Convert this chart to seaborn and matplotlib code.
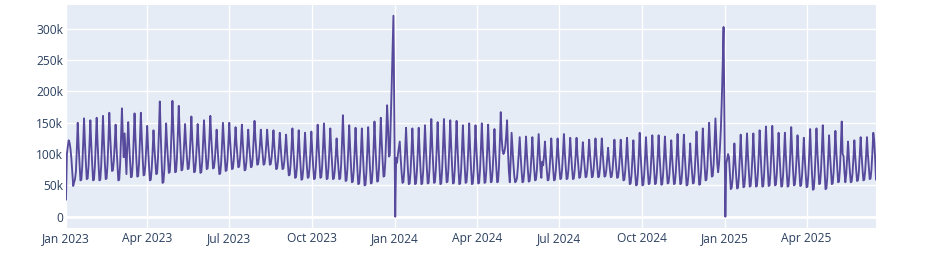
import matplotlib
matplotlib.use("Agg")
import matplotlib.pyplot as plt
import seaborn as sns
import pandas as pd
import numpy as np

# Daily values in thousands
values_2023_k = [
    27, 100, 112, 122, 118, 108, 92,
    70, 49, 55, 60, 72, 108, 150,
    113, 84, 58, 59, 80, 115, 157,
    118, 87, 60, 61, 81, 115, 154,
    116, 85, 58, 59, 80, 116, 158,
    118, 86, 58, 59, 81, 118, 161,
    121, 88, 60, 61, 83, 121, 166,
    129, 99, 73, 74, 89, 116, 147,
    111, 83, 58, 59, 83, 125, 173,
    130, 95, 133, 100, 68, 116, 151,
    116, 88, 63, 64, 85, 122, 165,
    125, 92, 64, 65, 86, 123, 166,
    126, 94, 66, 67, 83, 112, 145,
    110, 82, 58, 59, 76, 104, 138,
    110, 88, 68, 69, 94, 135, 184,
    132, 90, 54, 55, 75, 109, 149,
    117, 92, 70, 71, 95, 137, 185,
    139, 103, 71, 72, 94, 132, 177,
    136, 103, 74, 75, 90, 117, 148,
    119, 96, 76, 77, 94, 125, 160,
    124, 96, 71, 72, 88, 116, 148,
    117, 92, 70, 71, 88, 119, 154,
    123, 98, 76, 77, 95, 125, 161,
    127, 101, 77, 78, 91, 113, 139,
    111, 88, 68, 69, 86, 116, 150,
    122, 96, 73, 74, 90, 118, 150,
    120, 97, 76, 77, 91, 115, 143,
    117, 97, 79, 80, 94, 118, 147,
    118, 94, 74, 75, 88, 112, 139,
    115, 96, 79, 80, 95, 122, 153,
    125, 103, 83, 84, 95, 115, 139,
    117, 99, 83, 84, 95, 115, 139,
    117, 99, 83, 84, 95, 115, 138,
    113, 93, 76, 77, 89, 110, 134,
    111, 92, 76, 77, 88, 108, 131,
    105, 84, 66, 67, 83, 110, 141,
    109, 84, 62, 63, 79, 106, 138,
    106, 81, 59, 60, 76, 103, 134,
    105, 82, 62, 63, 78, 105, 136,
    106, 81, 60, 61, 79, 110, 147,
    113, 86, 62, 63, 81, 112, 149,
    113, 85, 60, 61, 78, 107, 141,
    109, 83, 60, 61, 74, 98, 125,
    99, 78, 60, 61, 82, 119, 162,
    120, 86, 57, 58, 77, 109, 146,
    110, 80, 55, 56, 74, 105, 142,
    106, 77, 52, 53, 72, 104, 141,
    105, 75, 50, 51, 70, 104, 143,
    107, 78, 53, 54, 75, 110, 152,
    114, 83, 56, 57, 78, 115, 158,
    120, 90, 64, 65, 89, 130, 178,
    145, 96, 98, 150, 205, 262, 321,
    155,
]

values_2024_k = [
    0, 94, 86, 100, 110, 120,
    94, 72, 54, 55, 73, 105, 142,
    106, 77, 52, 53, 72, 104, 141,
    105, 77, 52, 53, 72, 104, 142,
    106, 77, 52, 53, 73, 107, 146,
    109, 79, 53, 54, 76, 113, 156,
    115, 83, 54, 55, 75, 110, 151,
    111, 80, 52, 53, 75, 112, 156,
    116, 83, 55, 56, 77, 112, 154,
    114, 81, 53, 54, 75, 111, 153,
    113, 80, 52, 53, 73, 107, 146,
    109, 80, 54, 55, 75, 109, 149,
    110, 79, 52, 53, 73, 107, 146,
    109, 79, 53, 54, 74, 109, 149,
    111, 81, 54, 55, 74, 108, 147,
    110, 81, 55, 56, 74, 104, 140,
    106, 79, 55, 56, 80, 120, 167,
    125, 106, 100, 104, 112, 130, 154,
    105, 72, 55, 90, 134, 110, 85,
    65, 55, 57, 62, 80, 104, 127,
    98, 75, 55, 56, 71, 97, 128,
    99, 76, 56, 57, 72, 97, 127,
    99, 77, 58, 59, 74, 101, 132,
    102, 75, 62, 88, 82, 98, 120,
    95, 75, 58, 59, 73, 97, 125,
    98, 77, 58, 59, 73, 97, 125,
    99, 78, 60, 61, 76, 102, 132,
    103, 80, 60, 61, 75, 98, 126,
    100, 78, 60, 61, 75, 98, 126,
    100, 80, 62, 63, 75, 95, 119,
    97, 79, 63, 64, 76, 98, 123,
    99, 80, 63, 64, 77, 99, 125,
    100, 80, 63, 64, 77, 99, 125,
    101, 81, 64, 65, 74, 91, 110,
    91, 76, 63, 64, 76, 98, 123,
    99, 79, 62, 63, 75, 97, 123,
    97, 76, 58, 59, 73, 97, 126,
    96, 73, 52, 53, 67, 93, 122,
    93, 70, 50, 51, 68, 99, 134,
    100, 74, 50, 51, 67, 95, 127,
    97, 73, 52, 53, 69, 97, 130,
    99, 74, 52, 53, 69, 97, 130,
    98, 73, 51, 52, 68, 96, 128,
    98, 74, 53, 54, 68, 93, 122,
    94, 72, 52, 53, 70, 98, 132,
    100, 74, 52, 53, 69, 98, 131,
    99, 73, 50, 51, 65, 89, 117,
    91, 71, 53, 54, 71, 101, 136,
    102, 75, 51, 52, 71, 103, 141,
    108, 81, 58, 59, 78, 111, 150,
    116, 88, 64, 65, 84, 118, 157,
    120, 85, 71, 85, 110, 140, 185,
    240, 303, 150,
]

values_2025_k = [
    0, 85, 92, 100,
    95, 70, 44, 46, 60, 85, 117,
    88, 65, 45, 46, 64, 95, 131,
    97, 71, 47, 48, 66, 97, 133,
    99, 72, 48, 49, 67, 97, 133,
    99, 72, 48, 49, 68, 100, 138,
    102, 73, 48, 49, 69, 104, 144,
    106, 76, 49, 50, 70, 105, 145,
    107, 77, 50, 51, 68, 99, 134,
    100, 72, 48, 49, 67, 98, 134,
    100, 72, 48, 49, 69, 103, 143,
    106, 76, 50, 51, 68, 96, 130,
    98, 72, 49, 50, 66, 94, 126,
    94, 69, 47, 48, 67, 101, 140,
    101, 70, 43, 44, 65, 100, 141,
    105, 77, 52, 53, 73, 107, 146,
    105, 73, 44, 45, 63, 94, 130,
    99, 74, 52, 53, 71, 101, 137,
    104, 78, 55, 56, 76, 111, 152,
    100, 97, 72, 55, 68, 95, 120,
    94, 73, 55, 56, 70, 94, 122,
    96, 75, 57, 58, 72, 98, 127,
    99, 77, 58, 59, 73, 98, 127,
    100, 79, 60, 61, 76, 103, 134,
    122, 95, 59,
]

y_ticks = [0, 50000, 100000, 150000, 200000, 250000, 300000]
y_tick_labels = ["0", "50k", "100k", "150k", "200k", "250k", "300k"]
x_tick_dates = ["2023-01-01", "2023-04-01", "2023-07-01", "2023-10-01",
                "2024-01-01", "2024-04-01", "2024-07-01", "2024-10-01",
                "2025-01-01", "2025-04-01"]
x_tick_labels = ["Jan 2023", "Apr 2023", "Jul 2023", "Oct 2023",
                 "Jan 2024", "Apr 2024", "Jul 2024", "Oct 2024",
                 "Jan 2025", "Apr 2025"]

all_k = values_2023_k + values_2024_k + values_2025_k
dates = pd.date_range("2023-01-01", periods=len(all_k), freq="D")
df = pd.DataFrame({"date": dates, "value": np.array(all_k, dtype=float) * 1000})

sns.set_theme(style="white")
plt.rcParams["font.family"] = ["Open Sans", "DejaVu Sans"]

W, H = 941, 259
fig = plt.figure(figsize=(W / 100, H / 100), dpi=100)
ax = fig.add_axes([66 / W, 1 - 227.7 / H, (876 - 66) / W, (227.7 - 4.7) / H])
ax.set_facecolor("#E5ECF6")

for t in pd.to_datetime(x_tick_dates):
    ax.axvline(t, color="white", lw=1, zorder=0)
for v in y_ticks:
    ax.axhline(v, color="white", lw=2 if v == 0 else 1, zorder=0)

sns.lineplot(data=df, x="date", y="value", color="#574a9c", linewidth=1.35,
             ax=ax, zorder=3)

ax.set_xlim(dates[0], dates[-1])
ax.set_ylim(-17600, 338600)
ax.set_yticks(y_ticks)
ax.set_yticklabels(y_tick_labels)
ax.set_xticks(pd.to_datetime(x_tick_dates))
ax.set_xticklabels(x_tick_labels)
ax.tick_params(axis="both", length=0, labelsize=8.64, labelcolor="#2a3f5f")
ax.tick_params(axis="y", pad=2)
ax.tick_params(axis="x", pad=3)
ax.set_xlabel("")
ax.set_ylabel("")
for s in ax.spines.values():
    s.set_visible(False)
ax.grid(False)

fig.savefig("out.png", dpi=100, facecolor="white")
